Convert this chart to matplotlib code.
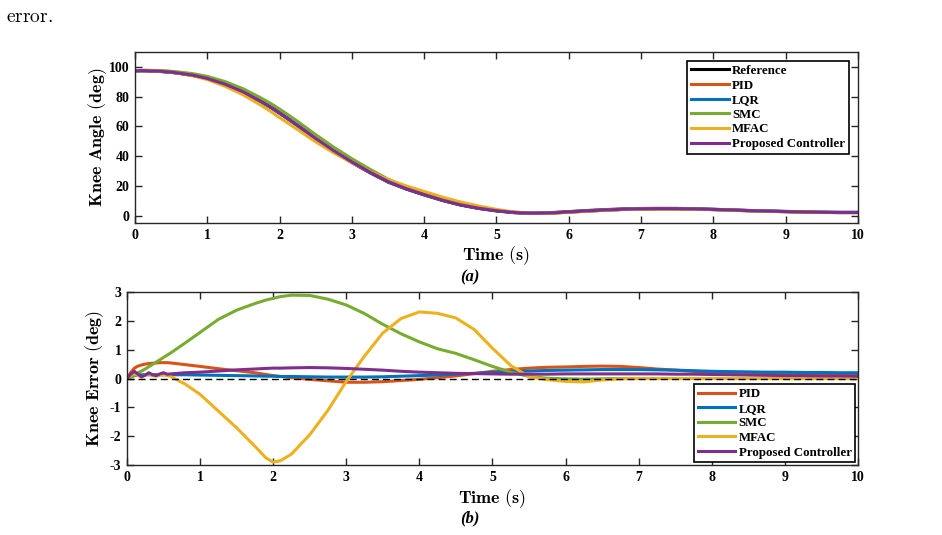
import matplotlib
matplotlib.use('Agg')
import matplotlib.pyplot as plt

plt.rcParams['font.family'] = ['Liberation Serif', 'DejaVu Serif']
plt.rcParams['font.weight'] = 'bold'
plt.rcParams['mathtext.fontset'] = 'cm'
plt.rcParams['axes.unicode_minus'] = False

# time grid (s)
t = [0, 0.05, 0.1, 0.15, 0.2, 0.25, 0.3, 0.35, 0.4, 0.45, 0.5, 0.55, 0.6, 0.8, 1.0,
     1.25, 1.5, 1.75, 1.9, 2.0, 2.1, 2.25, 2.5, 2.75, 3.0, 3.25, 3.5, 3.75, 4.0,
     4.25, 4.5, 4.75, 5.0, 5.25, 5.5, 5.75, 6.0, 6.25, 6.5, 6.75, 7.0, 7.25, 7.5,
     7.75, 8.0, 8.25, 8.5, 8.75, 9.0, 9.25, 9.5, 9.75, 10.0]

# reference knee angle (deg)
ref_angle = [97.3, 97.3, 97.3, 97.3, 97.2, 97.1, 97.0, 96.9, 96.7, 96.5, 96.3, 96.0, 95.7, 94.2, 92.0,
             88.0, 82.8, 76.3, 72.0, 68.8, 65.5, 60.4, 51.5, 43.2, 35.7, 28.9, 22.6, 17.9, 13.9,
             10.2, 7.1, 4.8, 3.1, 1.9, 1.4, 1.6, 2.3, 3.0, 3.6, 4.1, 4.4, 4.5, 4.5,
             4.3, 4.0, 3.6, 3.2, 2.9, 2.6, 2.3, 2.1, 2.0, 2.0]

# tracking errors (deg)
err_pid = [0, 0.2, 0.36, 0.43, 0.47, 0.5, 0.52, 0.53, 0.54, 0.55, 0.55, 0.55, 0.54, 0.48, 0.42,
           0.34, 0.27, 0.2, 0.14, 0.1, 0.07, 0.03, -0.03, -0.08, -0.13, -0.13, -0.11, -0.07, -0.03,
           0.03, 0.09, 0.17, 0.25, 0.31, 0.36, 0.39, 0.4, 0.42, 0.43, 0.42, 0.38, 0.33, 0.29,
           0.25, 0.22, 0.2, 0.18, 0.16, 0.15, 0.14, 0.13, 0.12, 0.12]
err_lqr = [0, 0.06, 0.1, 0.12, 0.13, 0.13, 0.13, 0.13, 0.13, 0.13, 0.13, 0.13, 0.13, 0.13, 0.12,
           0.11, 0.1, 0.09, 0.08, 0.08, 0.07, 0.07, 0.06, 0.05, 0.05, 0.05, 0.06, 0.08, 0.1,
           0.12, 0.15, 0.18, 0.21, 0.24, 0.26, 0.28, 0.29, 0.3, 0.31, 0.31, 0.31, 0.3, 0.29,
           0.27, 0.25, 0.24, 0.23, 0.22, 0.22, 0.21, 0.21, 0.2, 0.2]
err_smc = [0, 0.05, 0.1, 0.2, 0.26, 0.33, 0.41, 0.49, 0.57, 0.65, 0.73, 0.81, 0.89, 1.24, 1.6,
           2.05, 2.37, 2.6, 2.72, 2.78, 2.84, 2.89, 2.88, 2.75, 2.55, 2.25, 1.88, 1.55, 1.27,
           1.03, 0.87, 0.65, 0.42, 0.22, 0.07, 0.01, -0.01, -0.02, -0.01, 0.0, 0.0, 0.0, 0.0,
           0.0, 0.0, 0.0, 0.0, 0.0, 0.0, 0.0, 0.0, 0.0, 0.0]
err_mfac = [0, 0.1, 0.18, 0.1, 0.05, 0.12, 0.16, 0.1, 0.08, 0.12, 0.13, 0.11, 0.07, -0.2, -0.55,
            -1.13, -1.71, -2.35, -2.75, -2.9, -2.85, -2.62, -1.95, -1.1, -0.1, 0.78, 1.58, 2.08, 2.31,
            2.26, 2.1, 1.7, 1.05, 0.45, 0.06, -0.04, -0.1, -0.12, -0.05, -0.01, 0.0, 0.0, 0.0,
            0.0, 0.0, 0.0, 0.0, 0.0, 0.0, 0.0, 0.0, 0.0, 0.0]
err_prop = [0, 0.15, 0.25, 0.15, 0.06, 0.12, 0.2, 0.13, 0.1, 0.16, 0.2, 0.15, 0.16, 0.2, 0.22,
            0.26, 0.3, 0.33, 0.35, 0.36, 0.36, 0.37, 0.38, 0.37, 0.35, 0.32, 0.29, 0.25, 0.22,
            0.2, 0.18, 0.17, 0.16, 0.15, 0.15, 0.15, 0.16, 0.16, 0.16, 0.16, 0.16, 0.16, 0.15,
            0.15, 0.14, 0.13, 0.12, 0.11, 0.1, 0.1, 0.09, 0.09, 0.08]

names = ['PID', 'LQR', 'SMC', 'MFAC', 'Proposed Controller']
colors = ['#D95319', '#0072BD', '#77AC30', '#EDB120', '#7E2F8E']
errors = [err_pid, err_lqr, err_smc, err_mfac, err_prop]

spine_c = '#262626'


def style_axes(ax):
    for s in ax.spines.values():
        s.set_color(spine_c)
        s.set_linewidth(1.0)
    ax.tick_params(direction='in', top=True, right=True, length=5, width=1,
                   labelsize=10, pad=4, colors=spine_c, labelcolor='k')


def add_legend(ax, loc, pad):
    leg = ax.legend(loc=loc, fancybox=False, edgecolor='k', framealpha=1,
                    prop={'size': 9.3, 'weight': 'bold'}, handlelength=2.9,
                    handletextpad=0.25, labelspacing=0.2, borderpad=0.3,
                    borderaxespad=pad)
    leg.get_frame().set_linewidth(1.2)
    return leg


fig = plt.figure(figsize=(9.42, 5.35), dpi=100)

# (a) knee angle
ax1 = fig.add_axes([0.1433, 0.5832, 0.7675, 0.3196])
ax1.plot(t, ref_angle, color='k', lw=2.2, label='Reference')
for name, c, e in zip(names, colors, errors):
    ang = [r + d for r, d in zip(ref_angle, e)]
    ax1.plot(t, ang, color=c, lw=2.2, label=name)
ax1.set_xlim(0, 10)
ax1.set_ylim(-5, 110)
ax1.set_xticks(range(0, 11))
ax1.set_yticks(range(0, 101, 20))
style_axes(ax1)
ax1.set_xlabel(r'$\mathbf{Time\ (s)}$', fontsize=13)
ax1.set_ylabel(r'$\mathbf{Knee\ Angle\ (deg)}$', fontsize=13)
ax1.xaxis.set_label_coords(0.4993, -0.125)
ax1.yaxis.set_label_coords(-0.036, 0.5)
add_legend(ax1, 'upper right', 0.7)

# (b) knee error
ax2 = fig.add_axes([0.1348, 0.1308, 0.7760, 0.3234])
for name, c, e in zip(names, colors, errors):
    ax2.plot(t, e, color=c, lw=2.2, label=name)
ax2.axhline(0, color='k', lw=1.0, ls=(0, (5, 3)), zorder=5)
ax2.set_xlim(0, 10)
ax2.set_ylim(-3, 3)
ax2.set_xticks(range(0, 11))
ax2.set_yticks(range(-3, 4))
style_axes(ax2)
ax2.set_xlabel(r'$\mathbf{Time\ (s)}$', fontsize=13)
ax2.set_ylabel(r'$\mathbf{Knee\ Error\ (deg)}$', fontsize=13)
ax2.xaxis.set_label_coords(0.499, -0.128)
ax2.yaxis.set_label_coords(-0.029, 0.5)
add_legend(ax2, 'lower right', 0.2)

fig.text(470 / 942, 1 - 277 / 535, '(a)', fontsize=12, fontstyle='italic',
         fontweight='bold', ha='center', va='center')
fig.text(470 / 942, 1 - 518 / 535, '(b)', fontsize=12, fontstyle='italic',
         fontweight='bold', ha='center', va='center')
fig.text(6 / 942, 1 - 17 / 535, r'$\mathrm{error.}$', fontsize=14, ha='left', va='center')

fig.savefig('out.png', dpi=100)
